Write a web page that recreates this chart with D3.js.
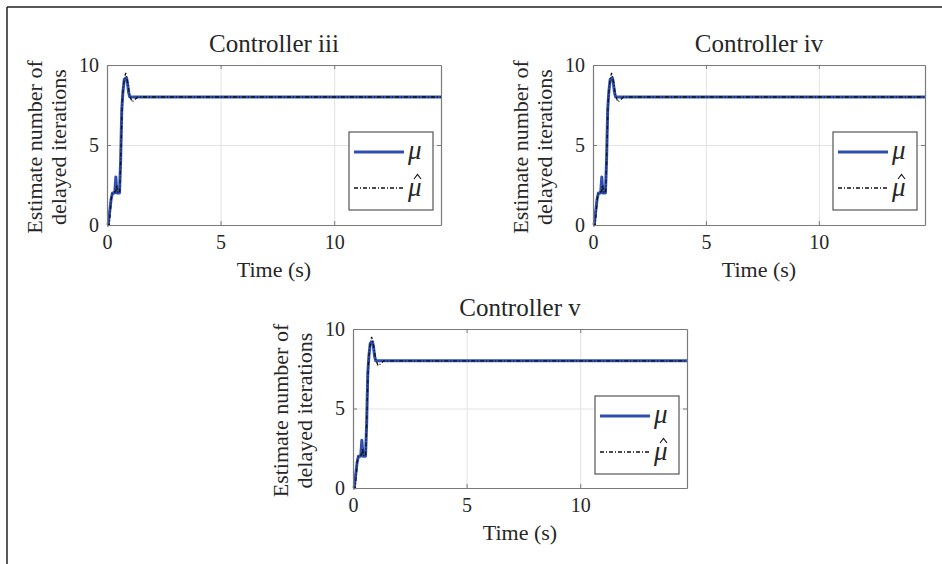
<!DOCTYPE html>
<html>
<head>
<meta charset="utf-8">
<script src="https://cdn.jsdelivr.net/npm/d3@7"></script>
<style>
  body { margin: 0; background: #fff; }
  svg { display: block; }
  text { font-family: "Liberation Serif", "Times New Roman", serif; fill: #262626; }
</style>
</head>
<body>
<svg id="chart" width="942" height="564"></svg>
<script>
// time (s) and the two traces (same for all three controllers)
var muTime  = [0, 0.05, 0.18, 0.24, 0.34, 0.39, 0.44, 0.55, 0.6, 0.65, 0.7, 0.76, 0.86, 0.9, 0.95, 1.0, 14.7];
var muVals  = [0, 0, 1.6, 2, 2, 3, 2, 2, 4, 7.2, 8.3, 9.1, 9.2, 8.9, 8.3, 8, 8];
var hatTime = [0, 0.1, 0.2, 0.25, 0.38, 0.42, 0.47, 0.56, 0.61, 0.68, 0.75, 0.82, 0.9, 1.0, 1.1, 1.2, 1.35, 14.7];
var hatVals = [0, 0, 1.8, 2, 2.1, 2.5, 2, 2.1, 4.5, 8, 9, 9.5, 9, 8.1, 7.7, 7.8, 8, 8];

var titles = ['Controller iii', 'Controller iv', 'Controller v'];
var xTicks = [0, 5, 10];
var yTicks = [0, 5, 10];
var xDomain = [0, 14.7];
var yDomain = [0, 10];

var panels = [
  {left: 107, top: 65, width: 334, height: 160},
  {left: 593, top: 65, width: 332, height: 160},
  {left: 353, top: 329, width: 334, height: 159}
];

var svg = d3.select('#chart');

// page frame (top and left edges only)
svg.append('line').attr('x1', 7).attr('y1', 7).attr('x2', 942).attr('y2', 7).attr('stroke', '#222').attr('stroke-width', 1.5);
svg.append('line').attr('x1', 7).attr('y1', 7).attr('x2', 7).attr('y2', 564).attr('stroke', '#222').attr('stroke-width', 1.5);

var drawPanel = function(p, title) {
  var g = svg.append('g').attr('transform', 'translate(' + p.left + ',' + p.top + ')');
  var x = d3.scaleLinear().domain(xDomain).range([0, p.width]);
  var y = d3.scaleLinear().domain(yDomain).range([p.height, 0]);

  g.append('rect').attr('width', p.width).attr('height', p.height).attr('fill', '#fff');

  // grid
  g.append('g').attr('class', 'grid').attr('transform', 'translate(0,' + p.height + ')')
    .call(d3.axisBottom(x).tickValues(xTicks).tickSize(-p.height).tickFormat(''))
    .call(function(a) { a.select('.domain').remove(); a.selectAll('line').attr('stroke', '#e3e3e3'); });
  g.append('g').attr('class', 'grid')
    .call(d3.axisLeft(y).tickValues(yTicks).tickSize(-p.width).tickFormat(''))
    .call(function(a) { a.select('.domain').remove(); a.selectAll('line').attr('stroke', '#e3e3e3'); });

  var line = d3.line().x(function(d) { return x(d[0]); }).y(function(d) { return y(d[1]); });
  var muData = d3.zip(muTime, muVals);
  var hatData = d3.zip(hatTime, hatVals);

  g.append('path').datum(muData).attr('d', line).attr('fill', 'none')
    .attr('stroke', '#2f4fb0').attr('stroke-width', 3).attr('stroke-linejoin', 'round');
  g.append('path').datum(hatData).attr('d', line).attr('fill', 'none')
    .attr('stroke', '#111').attr('stroke-width', 1.3).attr('stroke-dasharray', '4,2,1,2');

  // axes, ticks pointing inward on all four sides
  var styleAxis = function(a) {
    a.select('.domain').attr('stroke', '#7a7a7a').attr('stroke-width', 1.2);
    a.selectAll('.tick line').attr('stroke', '#7a7a7a');
    a.selectAll('text').style('font-size', '20px').attr('fill', '#262626');
  };
  g.append('g').attr('transform', 'translate(0,' + p.height + ')')
    .call(d3.axisBottom(x).tickValues(xTicks).tickSizeInner(-4).tickSizeOuter(0).tickPadding(10))
    .call(styleAxis);
  g.append('g')
    .call(d3.axisTop(x).tickValues(xTicks).tickSizeInner(-4).tickSizeOuter(0).tickFormat(''))
    .call(styleAxis);
  g.append('g')
    .call(d3.axisLeft(y).tickValues(yTicks).tickSizeInner(-4).tickSizeOuter(0).tickPadding(8))
    .call(styleAxis);
  g.append('g').attr('transform', 'translate(' + p.width + ',0)')
    .call(d3.axisRight(y).tickValues(yTicks).tickSizeInner(-4).tickSizeOuter(0).tickFormat(''))
    .call(styleAxis);

  // title and labels
  g.append('text').attr('x', p.width / 2).attr('y', -13).attr('text-anchor', 'middle')
    .style('font-size', '25px').attr('fill', '#111').text(title);
  g.append('text').attr('x', p.width / 2).attr('y', p.height + 52).attr('text-anchor', 'middle')
    .style('font-size', '22px').text('Time (s)');
  var yl = g.append('text').attr('transform', 'translate(-65,' + (p.height / 2 + 2) + ') rotate(-90)')
    .attr('text-anchor', 'middle').style('font-size', '22px');
  yl.append('tspan').attr('x', 0).attr('dy', 0).text('Estimate number of');
  yl.append('tspan').attr('x', 0).attr('dy', 24).text('delayed iterations');

  // legend
  var lw = 84, lh = 78;
  var lg = g.append('g').attr('transform', 'translate(' + (p.width - 8 - lw) + ',67)');
  lg.append('rect').attr('width', lw).attr('height', lh).attr('fill', '#fff')
    .attr('stroke', '#555').attr('stroke-width', 1.2);
  lg.append('line').attr('x1', 5).attr('x2', 55).attr('y1', 20).attr('y2', 20)
    .attr('stroke', '#2f4fb0').attr('stroke-width', 3);
  lg.append('line').attr('x1', 5).attr('x2', 55).attr('y1', 56).attr('y2', 56)
    .attr('stroke', '#111').attr('stroke-width', 1.3).attr('stroke-dasharray', '4,2,1,2');
  lg.append('text').attr('x', 59).attr('y', 27).style('font-size', '27px').style('font-style', 'italic')
    .attr('fill', '#111').text('\u03bc');
  lg.append('text').attr('x', 59).attr('y', 64).style('font-size', '27px').style('font-style', 'italic')
    .attr('fill', '#111').text('\u03bc');
  // circumflex accent over the second mu
  lg.append('path').attr('d', 'M65,47 L68.5,42.5 L72,47').attr('fill', 'none')
    .attr('stroke', '#111').attr('stroke-width', 1.1);
};

panels.forEach(function(p, i) { drawPanel(p, titles[i]); });
</script>
</body>
</html>
